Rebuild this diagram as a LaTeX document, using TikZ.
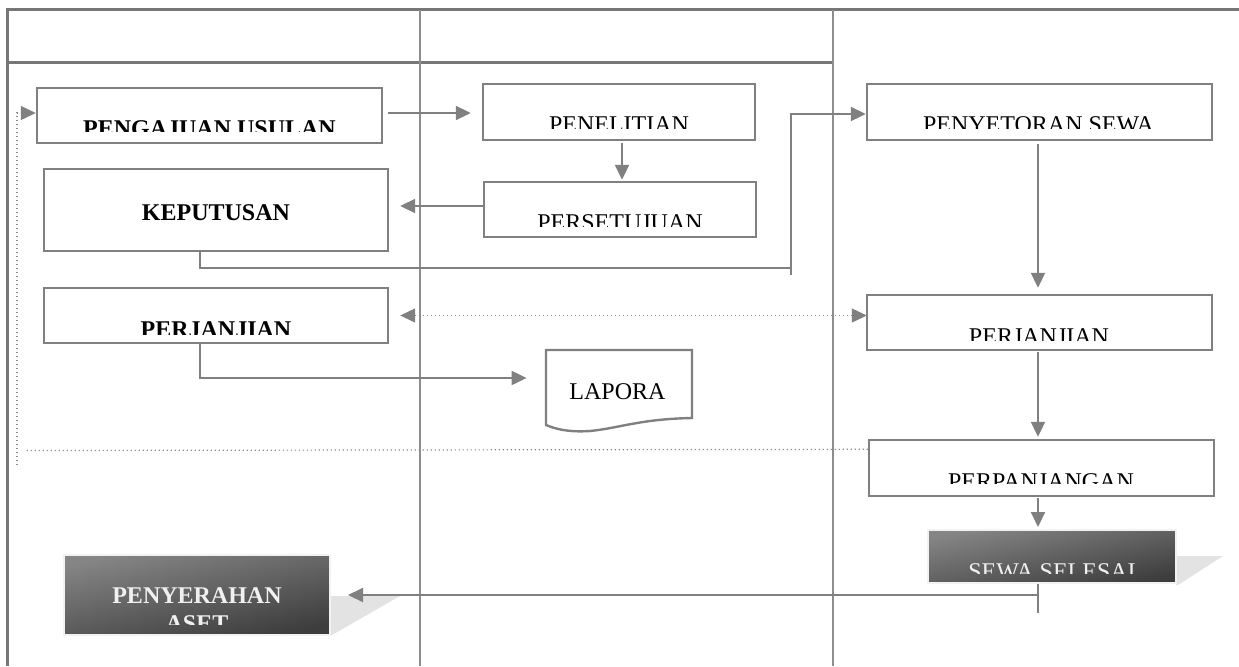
\documentclass[tikz,border=0pt]{standalone}
\usepackage{fontspec}
\setmainfont{Liberation Serif}
\usetikzlibrary{arrows.meta,calc}
\definecolor{frameg}{HTML}{777777}
\definecolor{lineg}{HTML}{808080}
\definecolor{shadeg}{HTML}{E3E3E3}
% box from two corners, in picture units
\newcommand{\pxbox}[6]{%
  \node[#6, minimum width={(#4-#2)*0.5pt}, minimum height={(#5-#3)*0.5pt}]
    (#1) at ({(#2+#4)/2},{(#3+#5)/2}) {};}
\begin{document}
\begin{tikzpicture}[x=0.5pt,y=-0.5pt,
  frame/.style={draw=frameg, line width=1.5pt},
  lane/.style={draw=lineg!90, line width=1.1pt},
  box/.style={draw=lineg, line width=1.2pt, fill=white, inner sep=0pt},
  darkbox/.style={draw=black!5, line width=1pt, inner sep=0pt,
    top color=black!48, bottom color=black!76, shading angle=12},
  tip/.style={-{Triangle[length=7.5pt,width=7pt,color=lineg]}},
  conn/.style={draw=lineg, line width=1pt, tip},
  plain/.style={draw=lineg, line width=1pt},
  dots/.style={draw=black!45, line width=0.6pt, dash pattern=on 0.6pt off 1.4pt},
  lbl/.style={font=\fontsize{12}{14}\selectfont, inner sep=0pt, anchor=base},
  lblb/.style={lbl, font=\fontsize{12}{14}\selectfont\bfseries},
  lblw/.style={lbl, text=black!6},
]
\useasboundingbox (0,0) rectangle (1239,666);

% swimlane frame
\draw[frame] (1239,9.5) -- (7,9.5) -- (7,666);
\draw[frame] (7,62) -- (833,62);
\draw[lane] (420,9.5) -- (420,666);
\draw[lane] (833,9.5) -- (833,666);

% shadows of the closing steps
\fill[shadeg] (1176,556) -- (1223,556) -- (1178,585) -- (1176,585) -- cycle;
\fill[shadeg] (330,596) -- (400,596) -- (332,635) -- (330,635) -- cycle;

% process boxes
\pxbox{peng}{37}{88}{382}{143}{box}
\pxbox{penel}{483}{84}{755}{140}{box}
\pxbox{pers}{484}{182}{756}{237}{box}
\pxbox{kep}{44}{169}{388}{251}{box}
\pxbox{perjL}{44}{288}{388}{343}{box}
\pxbox{peny}{867}{84}{1212}{140}{box}
\pxbox{perjR}{867}{295}{1212}{350}{box}
\pxbox{perp}{869}{440}{1214}{496}{box}
\pxbox{lapbox}{546}{350}{692}{425}{inner sep=0pt}
\pxbox{sewa}{928}{530}{1176}{583}{darkbox}
\pxbox{pyr}{64}{555}{330}{635}{darkbox}

% report document
\draw[box] (692,418) .. controls (640,419) and (620,428) .. (590,431)
  .. controls (575,432) and (560,431) .. (546,425) -- (546,350) -- (692,350) -- cycle;
\node[lbl] (tlap) at (617.5,399) {LAPORA};

% labels (set low in their boxes, cut by the box)
\begin{scope}\clip (37,88) rectangle (382,131.5);
  \node[lblb] (tpeng) at (209.5,136) {PENGAJUAN USULAN};\end{scope}
\begin{scope}\clip (483,84) rectangle (755,128.3);
  \node[lbl] (tpenel) at (619,132.5) {PENELITIAN};\end{scope}
\begin{scope}\clip (484,182) rectangle (756,226.5);
  \node[lbl] (tpers) at (620,230) {PERSETUJUAN};\end{scope}
\node[lblb] (tkep) at (216,220) {KEPUTUSAN};
\begin{scope}\clip (44,288) rectangle (388,334);
  \node[lblb] (tperjL) at (216,337.5) {PERJANJIAN};\end{scope}
\begin{scope}\clip (867,84) rectangle (1212,128.3);
  \node[lbl] (tpeny) at (1038.5,132.5) {PENYETORAN SEWA};\end{scope}
\begin{scope}\clip (867,295) rectangle (1212,340);
  \node[lbl] (tperjR) at (1039,344) {PERJANJIAN};\end{scope}
\begin{scope}\clip (869,440) rectangle (1214,483);
  \node[lbl] (tperp) at (1041,489) {PERPANJANGAN};\end{scope}
\begin{scope}\clip (928,530) rectangle (1176,573);
  \node[lblw] (tsewa) at (1052,579) {SEWA SELESAI};\end{scope}
\node[lblw, font=\fontsize{12}{14}\selectfont\bfseries] (tpyr1) at (197,603.5) {PENYERAHAN};
\begin{scope}\clip (64,555) rectangle (330,624);
  \node[lblw, font=\fontsize{12}{14}\selectfont\bfseries] (tpyr2) at (197,631) {ASET};\end{scope}

% connector end points
\coordinate (a1) at ($(peng.east)+(5,-2.5)$);
\coordinate (a2) at ($(penel.west)+(-11,0)$);
\coordinate (b1) at ($(penel.south)+(3,2)$);
\coordinate (b2) at ($(pers.north)+(0,-1)$);
\coordinate (c1) at ($(pers.west)+(0,-3.5)$);
\coordinate (c2) at ($(kep.east)+(11,0)$);
\coordinate (d1) at ($(peny.south)+(-1.5,3)$);
\coordinate (d2) at ($(perjR.north)+(0,-6)$);
\coordinate (e1) at ($(perjL.east)+(11,0)$);
\coordinate (f1) at ($(perjR.south)+(-1.5,1)$);
\coordinate (f2) at ($(perp.north)+(0,-2)$);
\coordinate (g1) at ($(perp.south)+(-3.5,1)$);
\coordinate (g2) at ($(sewa.north)+(0,-2)$);
\coordinate (h0) at ($(sewa.south)+(-14,0)$);
\coordinate (h1) at ($(sewa.south)+(-14,11)$);
\coordinate (h2) at ($(pyr.east)+(17,0)$);

% connectors
\draw[conn] (a1) -- (a1 -| a2);
\draw[conn] (b1) -- (b1 |- b2);
\draw[conn] (c1) -- (c1 -| c2);
\draw[plain] ($(kep.south)+(-16,0)$) |- ($(peny.west)+(-75,156)$);
\draw[conn] ($(peny.west)+(-75,163)$) |- ($(peny.west)+(0,2)$);
\draw[conn] (d1) -- (d1 |- d2);
\draw[dots, {Triangle[length=7.5pt,width=7pt,color=lineg]}-{Triangle[length=7.5pt,width=7pt,color=lineg]}]
  (e1) -- ($(perjR.west |- e1)+(1,0)$);
\draw[conn] ($(perjL.south)+(-16,0)$) |- ($(lapbox.west)+(-19,-9.5)$);
\draw[conn] (f1) -- (f1 |- f2);
\draw[conn] (g1) -- (g1 |- g2);
\draw[plain] (h0) -- ($(h0)+(0,29)$);
\draw[conn] (h1) -- (h1 -| h2);

% dotted return path to the start
\coordinate (fbbot) at (17,465);
\coordinate (fbtop) at (17,113);
\draw[dots] ($(perp.north west)+(0,10.5)$) -- ($(fbbot)+(7,-14.5)$);
\draw[dots, tip] (fbbot) -- (fbtop) -- (peng.west |- fbtop);
\end{tikzpicture}
\end{document}
